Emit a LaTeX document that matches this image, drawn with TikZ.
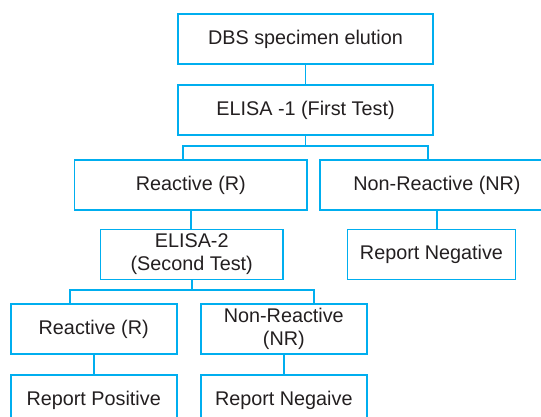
\documentclass[tikz,border=0pt]{standalone}
\usepackage{fontspec}
\setmainfont{Liberation Sans}
\usetikzlibrary{positioning}
\definecolor{box_cyan}{RGB}{0,174,239}
\definecolor{text_gray}{RGB}{35,31,32}

\begin{document}
\begin{tikzpicture}[
      x=1pt, y=-1pt,
      mybox/.style={
         rectangle,
         draw=box_cyan,
         line width=1.7pt,
         text=text_gray,
         align=center,
         inner sep=0pt,
         minimum height=50pt,
         font=\fontsize{19.8}{22.8}\selectfont},
      mylink/.style={
        draw=box_cyan,
        line width=1.7pt},
      ]
      \useasboundingbox (0,0) rectangle (541,417);
      \clip (0,0) rectangle (541,417);

      % first test
      \node[mybox,minimum width=255pt] (dbs) at (305.5,39) {DBS specimen elution};
      \node[mybox,minimum width=255pt] (elisa1) at (305.5,110) {ELISA -1 (First Test)};

      \node[mybox,minimum width=232.5pt] (r1) at (190.8,185) {Reactive (R)};
      \node[mybox,minimum width=234pt] (nr1) at (437,185) {Non-Reactive (NR)};

      % second test
      \node[mybox,minimum width=182.6pt] (elisa2) at (191.7,254.5) {ELISA-2\\(Second Test)};
      \node[mybox,minimum width=168pt] (neg1) at (431.5,254.5) {Report Negative};

      \node[mybox,minimum width=166pt] (r2) at (93.7,329) {Reactive (R)};
      \node[mybox,minimum width=166pt] (nr2) at (283.8,329) {Non-Reactive\\(NR)};

      % results
      \node[mybox,minimum width=166pt] (pos) at (93.7,400) {Report Positive};
      \node[mybox,minimum width=166pt] (neg2) at (283.8,400) {Report Negaive};

      % connectors
      \draw[mylink] (dbs) -- (elisa1);
      \draw[mylink] (elisa1.south) -- ++(0,10) coordinate (b1);
      \draw[mylink] ([xshift=-7.8pt]r1.north) |- (b1) -| ([xshift=-9pt]nr1.north);

      \draw[mylink] (r1.south) -- (r1.south |- elisa2.north);
      \draw[mylink] (nr1.south) -- (nr1.south |- neg1.north);

      \draw[mylink] (elisa2.south) -- ++(0,9.5) coordinate (b2);
      \draw[mylink] ([xshift=-24pt]r2.north) |- (b2) -| ([xshift=30.2pt]nr2.north);

      \draw[mylink] (r2) -- (pos);
      \draw[mylink] (nr2) -- (neg2);
    \end{tikzpicture}
\end{document}
